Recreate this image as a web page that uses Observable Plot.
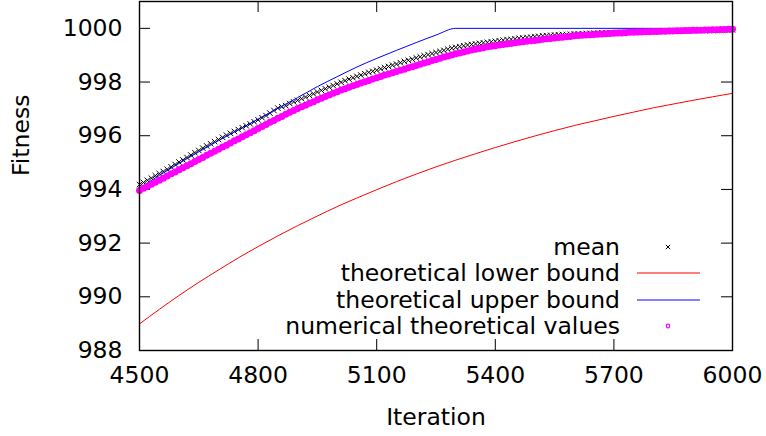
<!DOCTYPE html>
<html><head><meta charset="utf-8">
<script src="https://cdn.jsdelivr.net/npm/d3@7"></script>
<script src="https://cdn.jsdelivr.net/npm/@observablehq/plot@0.6"></script>
<style>html,body{margin:0;padding:0;background:#fff} svg{display:block}</style>
</head><body><div id="chart"></div>
<script>
// ---- data ----
const sampleStart = 4500, sampleStep = 10;   // mean and numerical values sampled every 10 iterations

const meanValues = [
994.18,994.26,994.34,994.42,994.51,994.59,994.67,994.75,994.84,994.93,
995.02,995.10,995.19,995.28,995.37,995.45,995.54,995.62,995.70,995.78,
995.86,995.94,996.02,996.09,996.16,996.23,996.30,996.37,996.44,996.52,
996.59,996.67,996.75,996.84,996.94,997.03,997.08,997.12,997.20,997.26,
997.32,997.38,997.44,997.50,997.56,997.63,997.69,997.75,997.81,997.87,
997.93,997.99,998.05,998.11,998.16,998.21,998.26,998.31,998.36,998.40,
998.44,998.49,998.54,998.58,998.63,998.67,998.72,998.77,998.81,998.85,
998.90,998.94,998.98,999.02,999.06,999.10,999.14,999.18,999.22,999.26,
999.29,999.32,999.35,999.38,999.40,999.42,999.44,999.46,999.48,999.50,
999.52,999.54,999.56,999.58,999.59,999.61,999.63,999.64,999.66,999.67,
999.69,999.70,999.72,999.73,999.74,999.75,999.76,999.77,999.77,999.78,
999.79,999.79,999.80,999.81,999.81,999.82,999.82,999.83,999.83,999.84,
999.84,999.85,999.85,999.86,999.86,999.86,999.87,999.87,999.87,999.88,
999.88,999.88,999.89,999.89,999.89,999.90,999.90,999.90,999.91,999.91,
999.91,999.92,999.92,999.92,999.93,999.93,999.93,999.94,999.94,999.94,
999.95];

const numericalValues = [
993.96,994.04,994.11,994.19,994.27,994.34,994.42,994.50,994.58,994.65,
994.73,994.81,994.88,994.96,995.04,995.11,995.19,995.27,995.35,995.42,
995.50,995.58,995.65,995.73,995.81,995.88,995.96,996.04,996.11,996.19,
996.27,996.34,996.42,996.50,996.57,996.65,996.72,996.80,996.87,996.94,
997.01,997.08,997.14,997.21,997.27,997.34,997.40,997.46,997.52,997.58,
997.64,997.70,997.75,997.81,997.86,997.91,997.96,998.01,998.06,998.11,
998.16,998.21,998.26,998.30,998.35,998.39,998.44,998.48,998.53,998.57,
998.62,998.66,998.71,998.75,998.80,998.84,998.89,998.93,998.97,999.01,
999.05,999.08,999.12,999.16,999.19,999.22,999.25,999.28,999.31,999.33,
999.35,999.38,999.40,999.42,999.44,999.46,999.48,999.50,999.52,999.54,
999.55,999.57,999.59,999.61,999.62,999.64,999.66,999.67,999.69,999.70,
999.72,999.73,999.74,999.75,999.76,999.77,999.78,999.79,999.80,999.81,
999.82,999.83,999.83,999.84,999.85,999.85,999.86,999.86,999.87,999.87,
999.88,999.88,999.89,999.89,999.90,999.90,999.91,999.91,999.92,999.92,
999.93,999.93,999.93,999.94,999.94,999.95,999.95,999.96,999.96,999.97,
999.97];

const upperIterations = [4500,4550,4600,4650,4700,4750,4800,4850,4900,4950,5000,5050,5100,5150,5200,5250,5300,6000];
const upperValues     = [994.05,994.52,994.97,995.40,995.82,996.22,996.62,997.02,997.42,997.83,998.20,998.56,998.88,999.18,999.47,999.75,1000,1000];

const lowerIterations = [4500,4550,4600,4650,4700,4750,4800,4850,4900,4950,5000,5050,5100,5150,5200,5250,5300,5350,5400,5450,5500,5550,5600,5650,5700,5750,5800,5850,5900,5950,6000];
const lowerValues     = [988.99,989.53,990.05,990.54,991.00,991.45,991.87,992.27,992.65,993.01,993.36,993.68,993.99,994.29,994.57,994.84,995.09,995.33,995.56,995.78,995.99,996.19,996.38,996.55,996.72,996.88,997.04,997.18,997.32,997.45,997.58];

const xTicks = [4500, 4800, 5100, 5400, 5700, 6000];
const yTicks = [988, 990, 992, 994, 996, 998, 1000];
const seriesNames = ["mean", "theoretical lower bound", "theoretical upper bound", "numerical theoretical values"];
const seriesColors = ["#000000", "#ff0000", "#0000ff", "#ff00ff"];
const xLabel = "Iteration", yLabel = "Fitness";

// ---- tables ----
const mean = meanValues.map((v, i) => ({iteration: sampleStart + i * sampleStep, fitness: v}));
const numerical = numericalValues.map((v, i) => ({iteration: sampleStart + i * sampleStep, fitness: v}));
const upper = upperIterations.map((t, i) => ({iteration: t, fitness: upperValues[i]}));
const lower = lowerIterations.map((t, i) => ({iteration: t, fitness: lowerValues[i]}));

// ---- layout ----
const W = 766, H = 436, mL = 139, mR = 34, mT = 1, mB = 86;
const plotW = W - mL - mR, plotH = H - mT - mB, tickLen = 11;
const font = "'DejaVu Sans', sans-serif";
const fs = 23.5;

const plot = Plot.plot({
  width: W, height: H,
  marginLeft: mL, marginRight: mR, marginTop: mT, marginBottom: mB,
  style: {fontFamily: font, fontSize: fs + "px", background: "#fff", color: "#000", overflow: "visible"},
  x: {domain: [4500, 6000]},
  y: {domain: [988, 1001]},
  marks: [
    Plot.axisX(xTicks, {tickSize: 0, tickPadding: 16, tickFormat: d => `${d}`, label: null, fontSize: fs}),
    Plot.axisY(yTicks, {tickSize: 0, tickPadding: 17, tickFormat: d => `${d}`, label: null, fontSize: fs}),
    Plot.ruleY(yTicks, {insetRight: plotW - tickLen, stroke: "#000", strokeWidth: 1}),
    Plot.ruleY(yTicks, {insetLeft: plotW - tickLen, stroke: "#000", strokeWidth: 1}),
    Plot.ruleX(xTicks, {insetTop: plotH - tickLen, stroke: "#000", strokeWidth: 1}),
    Plot.ruleX(xTicks, {insetBottom: plotH - tickLen, stroke: "#000", strokeWidth: 1}),
    Plot.text([xLabel], {frameAnchor: "bottom", dy: 74, text: d => d, fontSize: fs}),
    Plot.text([yLabel], {frameAnchor: "left", dx: -118, rotate: -90, text: d => d, fontSize: fs}),
    Plot.dot(mean, {x: "iteration", y: "fitness", symbol: "times", r: 2.6, stroke: seriesColors[0], strokeWidth: 1}),
    Plot.line(lower, {x: "iteration", y: "fitness", stroke: seriesColors[1], strokeWidth: 1, curve: "monotone-x"}),
    Plot.line(upper, {x: "iteration", y: "fitness", stroke: seriesColors[2], strokeWidth: 1, curve: "monotone-x"}),
    Plot.dot(numerical, {x: "iteration", y: "fitness", r: 3.5, fill: seriesColors[3], stroke: "none"}),
    Plot.frame({stroke: "#000", strokeWidth: 1.4})
  ]
});

// ---- legend (inside plot, bottom right) ----
const svg = d3.select(plot);
const lg = svg.append("g").attr("font-family", font).attr("font-size", fs);
const textRight = mL + plotW - 112;
const rowY = i => Math.round(mT + plotH - 103.5 + i * 26.5);
const sampleX1 = textRight + 17, sampleX2 = textRight + 80, sampleMid = textRight + 48;
seriesNames.forEach((name, i) => {
  lg.append("text").attr("x", textRight).attr("y", rowY(i)).attr("dy", "0.36em")
    .attr("text-anchor", "end").attr("fill", "#000").text(name);
  if (i === 0) {
    lg.append("path").attr("d", d3.symbol(d3.symbolTimes, 14)())
      .attr("transform", `translate(${sampleMid},${rowY(i)})`)
      .attr("stroke", seriesColors[i]).attr("stroke-width", 1).attr("fill", "none");
  } else if (i === 3) {
    lg.append("circle").attr("cx", sampleMid).attr("cy", rowY(i)).attr("r", 1.8)
      .attr("stroke", seriesColors[i]).attr("stroke-width", 1.2).attr("fill", "none");
  } else {
    lg.append("line").attr("x1", sampleX1).attr("x2", sampleX2)
      .attr("y1", rowY(i)).attr("y2", rowY(i))
      .attr("stroke", seriesColors[i]).attr("stroke-width", 1.1);
  }
});

document.getElementById("chart").appendChild(plot);
</script>
</body></html>
